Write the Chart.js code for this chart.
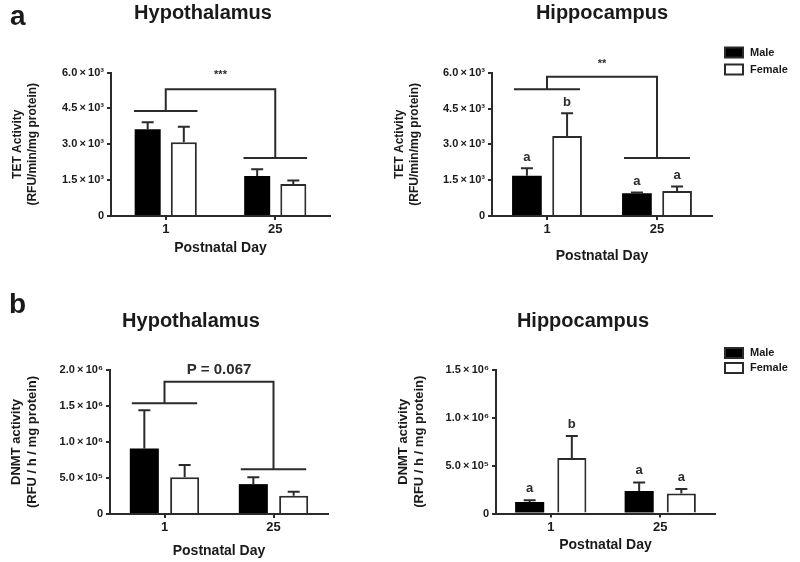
<!DOCTYPE html>
<html><head><meta charset="utf-8">
<script src="https://cdn.jsdelivr.net/npm/chart.js@4/dist/chart.umd.min.js"></script>
<style>
html,body{margin:0;padding:0;background:#fff;}
#wrap{position:relative;width:800px;height:562px;overflow:hidden;background:#fff;}
canvas{position:absolute;}
</style></head><body>
<div id="wrap">
<canvas id="c1" width="390" height="275" style="left:0;top:0"></canvas>
<canvas id="c2" width="410" height="275" style="left:390px;top:0"></canvas>
<canvas id="c3" width="390" height="287" style="left:0;top:275px"></canvas>
<canvas id="c4" width="410" height="287" style="left:390px;top:275px"></canvas>
</div>
<script>
// ---------- data ----------
const days = ['1', '25'];
const seriesNames = ['Male', 'Female'];

const tetHypoMale = [3625, 1670];
const tetHypoMaleSem = [295, 280];
const tetHypoFemale = [3080, 1340];
const tetHypoFemaleSem = [655, 140];

const tetHippoMale = [1690, 950];
const tetHippoMaleSem = [310, 30];
const tetHippoFemale = [3350, 1050];
const tetHippoFemaleSem = [950, 180];

const dnmtHypoMale = [910000, 415000];
const dnmtHypoMaleSem = [530000, 95000];
const dnmtHypoFemale = [510000, 255000];
const dnmtHypoFemaleSem = [170000, 55000];

const dnmtHippoMale = [120000, 235000];
const dnmtHippoMaleSem = [18000, 90000];
const dnmtHippoFemale = [580000, 210000];
const dnmtHippoFemaleSem = [230000, 45000];

const tetTicks = ['0', '1.5\u2009×\u200910³', '3.0\u2009×\u200910³', '4.5\u2009×\u200910³', '6.0\u2009×\u200910³'];
const dnmtHypoTicks = ['0', '5.0\u2009×\u200910⁵', '1.0\u2009×\u200910⁶', '1.5\u2009×\u200910⁶', '2.0\u2009×\u200910⁶'];
const dnmtHippoTicks = ['0', '5.0\u2009×\u200910⁵', '1.0\u2009×\u200910⁶', '1.5\u2009×\u200910⁶'];

const hippoLettersMale = ['a', 'a'];
const hippoLettersFemale = ['b', 'a'];

const panelLetters = ['a', 'b'];
const regionNames = ['Hypothalamus', 'Hippocampus'];
const tetTitle = ['TET Activity', '(RFU/min/mg protein)'];
const dnmtTitle = ['DNMT activity', '(RFU / h / mg protein)'];
const xTitle = 'Postnatal Day';
const sigTetHypo = '***';
const sigTetHippo = '**';
const sigDnmtHypo = 'P = 0.067';

// bracket levels (data units)
const tetHypoBracket = {group: [4390, 2425], top: 5300};
const tetHippoBracket = {group: [5305, 2428], top: 5830};
const dnmtHypoBracket = {group: [1537000, 620000], top: 1837000};

// ---------- styling ----------
const FF = '"Liberation Sans", Arial, Helvetica, sans-serif';
const INK = '#2b2b2b';

const errorBars = {
  id: 'errorBars',
  afterDatasetsDraw(chart) {
    const ctx = chart.ctx, y = chart.scales.y;
    chart.data.datasets.forEach((ds, di) => {
      const meta = chart.getDatasetMeta(di);
      meta.data.forEach((bar, i) => {
        const top = y.getPixelForValue(ds.data[i] + ds.sem[i]);
        ctx.save();
        ctx.strokeStyle = INK; ctx.lineWidth = 2;
        ctx.beginPath();
        ctx.moveTo(bar.x, bar.y); ctx.lineTo(bar.x, top);
        ctx.moveTo(bar.x - 6, top); ctx.lineTo(bar.x + 6, top);
        ctx.stroke();
        ctx.restore();
      });
    });
  }
};

const brackets = {
  id: 'brackets',
  afterDraw(chart, args, o) {
    if (!o || !o.group) return;
    const ctx = chart.ctx, x = chart.scales.x, y = chart.scales.y;
    const cw = x.getPixelForValue(1) - x.getPixelForValue(0);
    const hw = cw * o.half;
    const cx = [x.getPixelForValue(0), x.getPixelForValue(1)];
    const gy = o.group.map(v => y.getPixelForValue(v));
    const ty = y.getPixelForValue(o.top);
    ctx.save();
    ctx.strokeStyle = INK; ctx.lineWidth = 2;
    ctx.beginPath();
    for (let i = 0; i < 2; i++) { ctx.moveTo(cx[i] - hw, gy[i]); ctx.lineTo(cx[i] + hw, gy[i]); }
    ctx.moveTo(cx[0], gy[0]); ctx.lineTo(cx[0], ty); ctx.lineTo(cx[1], ty); ctx.lineTo(cx[1], gy[1]);
    ctx.stroke();
    ctx.fillStyle = INK;
    ctx.font = o.font;
    ctx.textAlign = 'center'; ctx.textBaseline = 'middle';
    ctx.fillText(o.label, (cx[0] + cx[1]) / 2 + (o.dx || 0), ty - o.gap);
    ctx.restore();
  }
};

const letters = {
  id: 'letters',
  afterDraw(chart, args, o) {
    if (!o || !o.sets) return;
    const ctx = chart.ctx, y = chart.scales.y;
    ctx.save();
    ctx.fillStyle = INK; ctx.font = 'bold 13px ' + FF;
    ctx.textAlign = 'center'; ctx.textBaseline = 'middle';
    chart.data.datasets.forEach((ds, di) => {
      const meta = chart.getDatasetMeta(di);
      meta.data.forEach((bar, i) => {
        const top = y.getPixelForValue(ds.data[i] + ds.sem[i]);
        ctx.fillText(o.sets[di][i], bar.x, top - o.gap);
      });
    });
    ctx.restore();
  }
};

const panelText = {
  id: 'panelText',
  afterDraw(chart, args, o) {
    const ctx = chart.ctx;
    ctx.save();
    ctx.fillStyle = '#1a1a1a';
    ctx.textBaseline = 'alphabetic';
    if (o.letter) {
      ctx.font = 'bold 28px ' + FF; ctx.textAlign = 'left';
      ctx.fillText(o.letter, o.lx, o.ly);
    }
    ctx.font = 'bold 20px ' + FF; ctx.textAlign = 'center';
    ctx.fillText(o.title, o.tx, o.ty);
    if (o.legend) {
      chart.data.datasets.forEach((ds, i) => {
        const cy = o.legend.y + i * o.legend.step;
        ctx.fillStyle = ds.backgroundColor;
        ctx.fillRect(o.legend.x, cy - 5, 18, 10);
        ctx.strokeStyle = INK; ctx.lineWidth = 2;
        ctx.strokeRect(o.legend.x, cy - 5, 18, 10);
        ctx.fillStyle = '#1a1a1a';
        ctx.font = 'bold 11px ' + FF; ctx.textAlign = 'left'; ctx.textBaseline = 'middle';
        ctx.fillText(ds.label, o.legend.x + 25, cy);
      });
    }
    ctx.restore();
  }
};

function makeChart(id, cfg) {
  const datasets = [
    {label: seriesNames[0], data: cfg.male, sem: cfg.maleSem, backgroundColor: '#000000', borderColor: '#000000', borderWidth: 0,
     categoryPercentage: cfg.catPct, barPercentage: cfg.barPct},
    {label: seriesNames[1], data: cfg.female, sem: cfg.femaleSem, backgroundColor: '#ffffff', borderColor: INK, borderWidth: 2,
     categoryPercentage: cfg.catPct, barPercentage: cfg.barPct}
  ];
  return new Chart(document.getElementById(id), {
    type: 'bar',
    data: {labels: days, datasets},
    plugins: [errorBars, brackets, letters, panelText],
    options: {
      responsive: false, animation: false,
      layout: {padding: cfg.pad},
      plugins: {
        legend: {display: false}, tooltip: {enabled: false},
        brackets: cfg.bracket || {},
        letters: cfg.letters || {},
        panelText: cfg.text
      },
      scales: {
        x: {
          grid: {drawOnChartArea: false, drawTicks: true, tickLength: 4, color: INK, lineWidth: 2, offset: false},
          border: {color: INK, width: 2},
          ticks: {font: {family: FF, weight: 'bold', size: 13}, color: '#1a1a1a', padding: 2, maxRotation: 0},
          title: {display: true, text: xTitle, color: '#1a1a1a', font: {family: FF, weight: 'bold', size: 14}, padding: {top: 0, bottom: cfg.xpb}},
          afterFit(s) { s.height = cfg.xh; }
        },
        y: {
          min: 0, max: cfg.max,
          ticks: {stepSize: cfg.step, callback: (v, i) => cfg.tickLabels[i], font: {family: FF, weight: 'bold', size: 11}, color: '#1a1a1a', padding: 3},
          grid: {drawOnChartArea: false, drawTicks: true, tickLength: 4, color: INK, lineWidth: 2},
          border: {color: INK, width: 2},
          title: {display: true, text: cfg.yTitle, color: '#1a1a1a', font: {family: FF, weight: 'bold', size: cfg.ytSize, lineHeight: 1.25}, padding: {top: cfg.ytPad, bottom: 0}},
          afterFit(s) { s.width = cfg.yw; }
        }
      }
    }
  });
}

makeChart('c1', {
  male: tetHypoMale, maleSem: tetHypoMaleSem, female: tetHypoFemale, femaleSem: tetHypoFemaleSem,
  catPct: 0.66, barPct: 0.72, max: 6000, step: 1500, tickLabels: tetTicks,
  yTitle: tetTitle, ytSize: 12, ytPad: 10.5, yw: 111, xh: 45, xpb: 4.4,
  pad: {top: 72.5, right: 60, bottom: 14, left: 0},
  bracket: {group: tetHypoBracket.group, top: tetHypoBracket.top, half: 0.29, label: sigTetHypo, font: 'bold 11px ' + FF, gap: 14},
  text: {letter: panelLetters[0], lx: 10, ly: 25, title: regionNames[0], tx: 203, ty: 19}
});

makeChart('c2', {
  male: tetHippoMale, maleSem: tetHippoMaleSem, female: tetHippoFemale, femaleSem: tetHippoFemaleSem,
  catPct: 0.73, barPct: 0.74, max: 6000, step: 1500, tickLabels: tetTicks,
  yTitle: tetTitle, ytSize: 12, ytPad: 2.5, yw: 102, xh: 50, xpb: 1.4,
  pad: {top: 72.7, right: 88, bottom: 9, left: 0},
  bracket: {group: tetHippoBracket.group, top: tetHippoBracket.top, half: 0.3, label: sigTetHippo, font: 'bold 11px ' + FF, gap: 13},
  letters: {sets: [hippoLettersMale, hippoLettersFemale], gap: 11},
  text: {title: regionNames[1], tx: 212, ty: 19, legend: {x: 335, y: 52.5, step: 17}}
});

makeChart('c3', {
  male: dnmtHypoMale, maleSem: dnmtHypoMaleSem, female: dnmtHypoFemale, femaleSem: dnmtHypoFemaleSem,
  catPct: 0.74, barPct: 0.72, max: 2000000, step: 500000, tickLabels: dnmtHypoTicks,
  yTitle: dnmtTitle, ytSize: 13, ytPad: 8.2, yw: 110, xh: 46, xpb: 0.4,
  pad: {top: 95, right: 62, bottom: 2, left: 0},
  bracket: {group: dnmtHypoBracket.group, top: dnmtHypoBracket.top, half: 0.3, label: sigDnmtHypo, font: 'bold 15px ' + FF, gap: 12},
  text: {letter: panelLetters[1], lx: 9, ly: 38, title: regionNames[0], tx: 191, ty: 52}
});

makeChart('c4', {
  male: dnmtHippoMale, maleSem: dnmtHippoMaleSem, female: dnmtHippoFemale, femaleSem: dnmtHippoFemaleSem,
  catPct: 0.77, barPct: 0.69, max: 1500000, step: 500000, tickLabels: dnmtHippoTicks,
  yTitle: dnmtTitle, ytSize: 13, ytPad: 5.2, yw: 106, xh: 42, xpb: 1.9,
  pad: {top: 95, right: 85, bottom: 6.5, left: 0},
  letters: {sets: [hippoLettersMale, hippoLettersFemale], gap: 12},
  text: {title: regionNames[1], tx: 193, ty: 52, legend: {x: 335, y: 78, step: 15}}
});
</script>
</body></html>
